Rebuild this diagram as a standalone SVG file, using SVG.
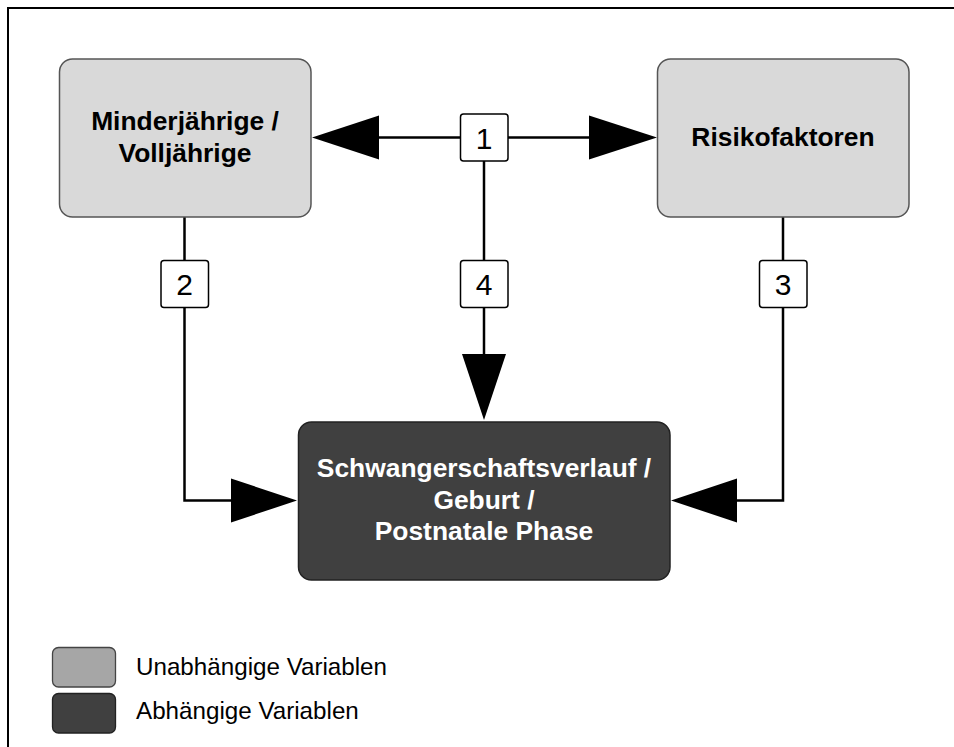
<svg xmlns="http://www.w3.org/2000/svg" width="954" height="747" viewBox="0 0 954 747">
<style>
.frame{fill:none;stroke:#000;stroke-width:2}
.light{fill:#d9d9d9;stroke:#555;stroke-width:1.5}
.dark{fill:#404040;stroke:#222;stroke-width:1.5}
.lbl{fill:#fff;stroke:#000;stroke-width:1.5}
.wire{fill:none;stroke:#000;stroke-width:2.5}
.head{fill:#000}
.t{font-family:"Liberation Sans",Arial,sans-serif;font-weight:bold;font-size:26.4px;text-anchor:middle}
.n{font-family:"Liberation Sans",Arial,sans-serif;font-size:30px;text-anchor:middle}
.lg{font-family:"Liberation Sans",Arial,sans-serif;font-size:24.2px}
</style>
<rect width="954" height="747" fill="#fff"/>
<path class="frame" d="M8,747 V8 H954"/>
<g id="connectors">
<path class="wire" d="M379,137.5 H589"/>
<polygon class="head" points="312,137.5 379,115.5 379,159.5"/>
<polygon class="head" points="657,137.5 589,115.5 589,159.5"/>
<path class="wire" d="M484,137.5 V354"/>
<polygon class="head" points="484,420 462,354 506,354"/>
<path class="wire" d="M184.5,217 V500.5 H231"/>
<polygon class="head" points="297,500.5 231,478.5 231,522.5"/>
<path class="wire" d="M783,217 V500.5 H737"/>
<polygon class="head" points="671,500.5 737,478.5 737,522.5"/>
</g>
<g id="node-minder">
<rect class="light" x="59.5" y="59" width="251.5" height="158" rx="13"/>
<text class="t" x="185" y="130">Minderjährige /</text>
<text class="t" x="185" y="161.5">Volljährige</text>
</g>
<g id="node-risiko">
<rect class="light" x="657.5" y="59" width="251.5" height="158" rx="13"/>
<text class="t" x="783" y="146">Risikofaktoren</text>
</g>
<g id="node-verlauf">
<rect class="dark" x="298.5" y="422" width="371.5" height="158" rx="13"/>
<text class="t" x="484" y="477" fill="#fff">Schwangerschaftsverlauf /</text>
<text class="t" x="484" y="508.5" fill="#fff">Geburt /</text>
<text class="t" x="484" y="540" fill="#fff">Postnatale Phase</text>
</g>
<g id="label-1">
<rect class="lbl" x="460.5" y="114" width="47.5" height="47" rx="3"/>
<text class="n" x="484" y="148.5">1</text>
</g>
<g id="label-2">
<rect class="lbl" x="161" y="260.5" width="47.5" height="47" rx="3"/>
<text class="n" x="184.5" y="294.5">2</text>
</g>
<g id="label-3">
<rect class="lbl" x="759.5" y="260.5" width="47.5" height="47" rx="3"/>
<text class="n" x="783" y="294.5">3</text>
</g>
<g id="label-4">
<rect class="lbl" x="460.5" y="260.5" width="47.5" height="47" rx="3"/>
<text class="n" x="484" y="294.5">4</text>
</g>
<g id="legend">
<rect x="52.5" y="647.5" width="63" height="39.5" rx="6" fill="#a6a6a6" stroke="#444" stroke-width="1.3"/>
<rect x="52.5" y="693.5" width="63" height="39.5" rx="6" fill="#404040" stroke="#222" stroke-width="1.3"/>
<text class="lg" x="136" y="675">Unabhängige Variablen</text>
<text class="lg" x="136" y="719">Abhängige Variablen</text>
</g>
</svg>
